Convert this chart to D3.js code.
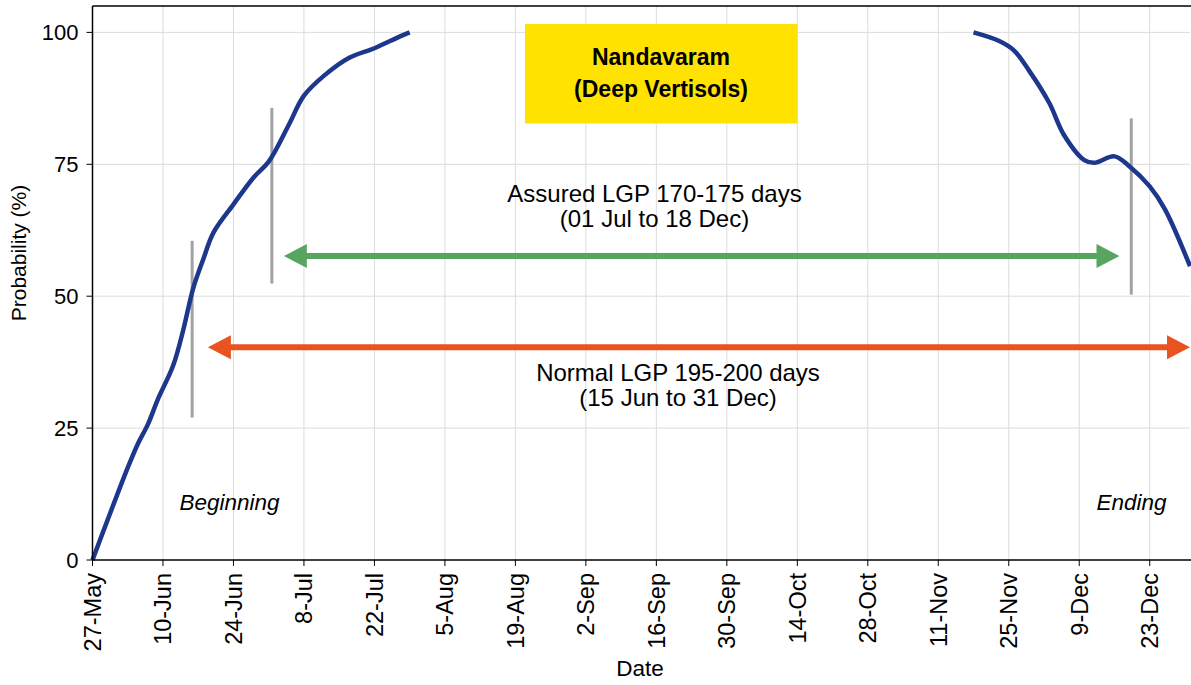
<!DOCTYPE html>
<html>
<head>
<meta charset="utf-8">
<script src="https://cdn.jsdelivr.net/npm/d3@7"></script>
<style>
  html, body { margin: 0; padding: 0; background: #fff; }
  svg { display: block; font-family: "Liberation Sans", Arial, sans-serif; }
</style>
</head>
<body>
<svg id="chart" width="1191" height="685"></svg>
<script>
// ---------------- DATA ----------------
const year = 2019;
const tickLabels = ["27-May","10-Jun","24-Jun","8-Jul","22-Jul","5-Aug","19-Aug","2-Sep",
  "16-Sep","30-Sep","14-Oct","28-Oct","11-Nov","25-Nov","9-Dec","23-Dec"];
const yTicks = [0, 25, 50, 75, 100];

// Beginning of season probability curve
const beginDates = ["2019-05-27","2019-06-03","2019-06-05","2019-06-07","2019-06-09","2019-06-12",
  "2019-06-14","2019-06-16","2019-06-18","2019-06-20","2019-06-24","2019-06-28","2019-07-01",
  "2019-07-05","2019-07-08","2019-07-12","2019-07-17","2019-07-22","2019-07-27","2019-07-29"];
const beginValues = [0, 17.5, 22, 25.7, 30.5, 36.8, 43.5, 51.5, 57, 62, 67.4, 72.5, 75.5,
  82.5, 88, 91.8, 95.2, 97, 99.2, 100];

// Ending of season probability curve
const endDates = ["2019-11-18","2019-11-23","2019-11-26","2019-11-29","2019-12-03","2019-12-06",
  "2019-12-10","2019-12-12","2019-12-16","2019-12-19","2019-12-23","2019-12-26","2019-12-31"];
const endValues = [100, 98.4, 96.6, 92.8, 86.7, 80.5, 75.8, 75.3, 76.5, 74.6, 70.8, 66.5, 55.7];

// Grey marker lines (date, low, high)
const markerDates = ["2019-06-15T19:00","2019-07-01T15:00","2019-12-19T08:00"];
const markerLow = [27, 52.4, 50.3];
const markerHigh = [60.5, 85.7, 83.7];

// LGP arrows
const arrowNames = ["Assured", "Normal"];
const arrowStart = ["2019-07-04", "2019-06-18T22:00"];
const arrowEnd = ["2019-12-17", "2019-12-31"];
const arrowValues = [57.6, 40.3];
const arrowColors = ["#58a55f", "#e8531f"];
const arrowText1 = ["Assured LGP 170-175 days", "Normal LGP 195-200 days"];
const arrowText2 = ["(01 Jul to 18 Dec)", "(15 Jun to 31 Dec)"];

const titleLines = ["Nandavaram", "(Deep Vertisols)"];

// ---------------- CHART ----------------
const svg = d3.select("#chart");
const mLeft = 92.5, mRight = 1190, mTop = 6, mBottom = 560;

const parseTick = d3.utcParse("%d-%b-%Y");

const x = d3.scaleUtc()
  .domain([Date.UTC(year, 4, 27), Date.UTC(year, 11, 31)])
  .range([mLeft, mRight]);
const y = d3.scaleLinear().domain([0, 105]).range([mBottom, mTop]);

const toUtc = s => new Date(s.length === 10 ? s + "T00:00Z" : s + "Z");
const tickDates = tickLabels.map(t => parseTick(t + "-" + year));

// Gridlines
const grid = svg.append("g");
grid.selectAll("line.v").data(tickDates).join("line").attr("class", "v")
  .attr("x1", d => x(d)).attr("x2", d => x(d))
  .attr("y1", mTop).attr("y2", mBottom)
  .attr("stroke", "#dcdcdc").attr("stroke-width", 1);
grid.selectAll("line.h").data(yTicks.filter(v => v > 0)).join("line").attr("class", "h")
  .attr("x1", mLeft).attr("x2", mRight)
  .attr("y1", d => y(d)).attr("y2", d => y(d))
  .attr("stroke", "#dcdcdc").attr("stroke-width", 1);

// Top border
svg.append("line").attr("x1", mLeft).attr("x2", 1191).attr("y1", mTop).attr("y2", mTop)
  .attr("stroke", "#000").attr("stroke-width", 1.5);

// Title box
svg.append("rect")
  .attr("x", 525).attr("y", 24).attr("width", 272.5).attr("height", 99.5)
  .attr("fill", "#ffe200");
const title = svg.append("text").attr("text-anchor", "middle")
  .attr("font-size", 23).attr("font-weight", "bold");
title.append("tspan").attr("x", 661).attr("y", 65).text(titleLines[0]);
title.append("tspan").attr("x", 661).attr("y", 96.5).text(titleLines[1]);

// Marker lines
svg.append("g").selectAll("line").data(markerDates).join("line")
  .attr("x1", d => x(toUtc(d))).attr("x2", d => x(toUtc(d)))
  .attr("y1", (d, i) => y(markerLow[i])).attr("y2", (d, i) => y(markerHigh[i]))
  .attr("stroke", "#a2a2a2").attr("stroke-width", 3);

// Arrows
const headLen = 23, headHalf = 12;
arrowNames.forEach((n, i) => {
  const xa = x(toUtc(arrowStart[i])), xb = x(toUtc(arrowEnd[i])), yy = y(arrowValues[i]);
  const g = svg.append("g");
  g.append("line").attr("x1", xa + headLen - 1).attr("x2", xb - headLen + 1)
    .attr("y1", yy).attr("y2", yy).attr("stroke", arrowColors[i]).attr("stroke-width", 6);
  g.append("path").attr("d", `M${xa},${yy}L${xa + headLen},${yy - headHalf}L${xa + headLen},${yy + headHalf}Z`)
    .attr("fill", arrowColors[i]);
  g.append("path").attr("d", `M${xb},${yy}L${xb - headLen},${yy - headHalf}L${xb - headLen},${yy + headHalf}Z`)
    .attr("fill", arrowColors[i]);
});

// Arrow annotations (two-line texts)
const annX = [654.5, 678], annY = [202, 381];
arrowNames.forEach((n, i) => {
  const t = svg.append("text").attr("text-anchor", "middle").attr("font-size", 24);
  t.append("tspan").attr("x", annX[i]).attr("y", annY[i]).text(arrowText1[i]);
  t.append("tspan").attr("x", annX[i]).attr("y", annY[i] + 24.5).text(arrowText2[i]);
});

// Beginning / Ending labels
svg.append("text").attr("x", 229.5).attr("y", 510).attr("text-anchor", "middle")
  .attr("font-size", 22.5).attr("font-style", "italic").text("Beginning");
svg.append("text").attr("x", 1131.5).attr("y", 510).attr("text-anchor", "middle")
  .attr("font-size", 22.5).attr("font-style", "italic").text("Ending");

// Curves
const line = d3.line().x(d => x(d[0])).y(d => y(d[1])).curve(d3.curveCatmullRom.alpha(0.5));
const beginData = beginDates.map((d, i) => [toUtc(d), beginValues[i]]);
const endData = endDates.map((d, i) => [toUtc(d), endValues[i]]);
[beginData, endData].forEach(data => {
  svg.append("path").datum(data).attr("d", line)
    .attr("fill", "none").attr("stroke", "#1c378c").attr("stroke-width", 4.5)
    .attr("stroke-linecap", "butt").attr("stroke-linejoin", "round");
});

// Axes
const xAxis = svg.append("g").attr("transform", `translate(0,${mBottom})`);
xAxis.append("line").attr("x1", mLeft).attr("x2", 1191).attr("y1", 0).attr("y2", 0)
  .attr("stroke", "#000").attr("stroke-width", 1.5);
xAxis.selectAll("line.tk").data(tickDates).join("line").attr("class", "tk")
  .attr("x1", d => x(d)).attr("x2", d => x(d)).attr("y1", 0).attr("y2", 6)
  .attr("stroke", "#000").attr("stroke-width", 1);
xAxis.selectAll("text").data(tickDates).join("text")
  .attr("transform", d => `translate(${x(d) + 8.5},13) rotate(-90)`)
  .attr("text-anchor", "end").attr("font-size", 23.5)
  .text((d, i) => tickLabels[i]);

const yAxis = svg.append("g");
yAxis.append("line").attr("x1", mLeft).attr("x2", mLeft).attr("y1", mTop).attr("y2", mBottom)
  .attr("stroke", "#000").attr("stroke-width", 1.5);
yAxis.selectAll("line.tk").data(yTicks).join("line").attr("class", "tk")
  .attr("x1", mLeft - 6).attr("x2", mLeft).attr("y1", d => y(d)).attr("y2", d => y(d))
  .attr("stroke", "#000").attr("stroke-width", 1);
yAxis.selectAll("text").data(yTicks).join("text")
  .attr("x", mLeft - 14).attr("y", d => y(d) + 8).attr("text-anchor", "end")
  .attr("font-size", 22).text(d => d);

// Axis titles
svg.append("text").attr("transform", `translate(26,253) rotate(-90)`)
  .attr("text-anchor", "middle").attr("font-size", 21).text("Probability (%)");
svg.append("text").attr("x", 640).attr("y", 676).attr("text-anchor", "middle")
  .attr("font-size", 22.5).text("Date");
</script>
</body>
</html>
